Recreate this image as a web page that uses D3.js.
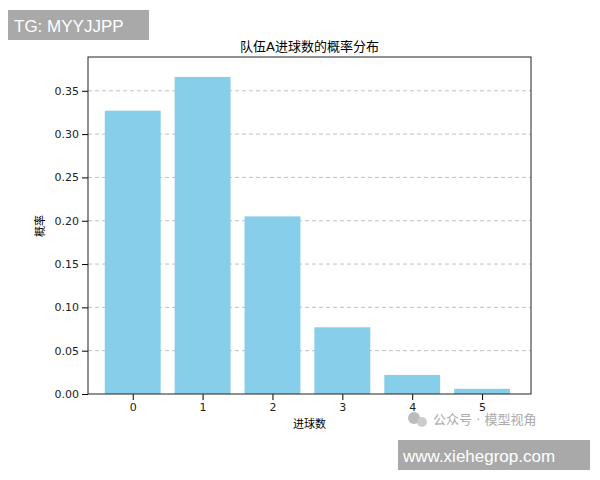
<!DOCTYPE html>
<html><head><meta charset="utf-8">
<script src="https://cdn.jsdelivr.net/npm/d3@7"></script>
<style>body{margin:0;background:#fff;font-family:"DejaVu Sans","Noto Sans CJK SC",sans-serif;}</style>
</head><body><svg id="c" width="600" height="480"></svg>
<script>
const goals = [0, 1, 2, 3, 4, 5];
const probs = [0.327, 0.366, 0.205, 0.077, 0.022, 0.006];
const yTicks = [0, 0.05, 0.10, 0.15, 0.20, 0.25, 0.30, 0.35];

const svg = d3.select('#c');
const m = {left: 88, right: 531, top: 57, bottom: 394};
const font = '"DejaVu Sans","Noto Sans CJK SC",sans-serif';

const x = d3.scaleLinear().domain([-0.64, 5.7]).range([m.left, m.right]);
const y = d3.scaleLinear().domain([0, 0.389]).range([m.bottom, m.top]);
const barW = (x(1) - x(0)) * 0.8;

// grid
svg.append('g').selectAll('line').data(yTicks.slice(1)).join('line')
  .attr('x1', m.left).attr('x2', m.right)
  .attr('y1', d => y(d)).attr('y2', d => y(d))
  .attr('stroke', '#b0b0b0').attr('stroke-dasharray', '4,3').attr('stroke-width', 0.8);

svg.append('g').selectAll('rect').data(goals).join('rect')
  .attr('x', d => x(d) - barW / 2).attr('width', barW)
  .attr('y', (d, i) => y(probs[i])).attr('height', (d, i) => m.bottom - y(probs[i]))
  .attr('fill', '#87ceeb');

svg.append('g').attr('transform', `translate(0,${m.bottom})`)
  .call(d3.axisBottom(x).tickValues(goals).tickFormat(d3.format('d')).tickSizeOuter(0))
  .call(g => g.select('.domain').remove())
  .selectAll('text').attr('font-size', 11).attr('font-family', font).attr('fill', '#222');
svg.append('g').attr('transform', `translate(${m.left},0)`)
  .call(d3.axisLeft(y).tickValues(yTicks).tickFormat(d3.format('.2f')).tickSizeOuter(0))
  .call(g => g.select('.domain').remove())
  .selectAll('text').attr('font-size', 11).attr('font-family', font).attr('fill', '#222');

svg.append('rect').attr('x', m.left).attr('y', m.top)
  .attr('width', m.right - m.left).attr('height', m.bottom - m.top)
  .attr('fill', 'none').attr('stroke', '#222').attr('stroke-width', 1);

svg.append('text').attr('x', (m.left + m.right) / 2).attr('y', 51).attr('text-anchor', 'middle')
  .attr('font-size', 13).attr('font-family', font).text('队伍A进球数的概率分布');
svg.append('text').attr('x', (m.left + m.right) / 2).attr('y', 428).attr('text-anchor', 'middle')
  .attr('font-size', 11).attr('font-family', font).text('进球数');
svg.append('text').attr('transform', 'translate(44,226) rotate(-90)').attr('text-anchor', 'middle')
  .attr('font-size', 11).attr('font-family', font).text('概率');

// watermarks
svg.append('rect').attr('x', 8).attr('y', 10).attr('width', 141).attr('height', 30).attr('fill', '#a9a9a9');
svg.append('text').attr('x', 14).attr('y', 32).attr('fill', '#fff').attr('font-size', 17)
  .attr('font-family', 'Liberation Sans,Arial,sans-serif').text('TG: MYYJJPP');
svg.append('rect').attr('x', 398).attr('y', 440).attr('width', 192).attr('height', 30).attr('fill', '#a9a9a9');
svg.append('text').attr('x', 403).attr('y', 462).attr('fill', '#fff').attr('font-size', 17)
  .attr('font-family', 'Liberation Sans,Arial,sans-serif').text('www.xiehegrop.com');
svg.append('circle').attr('cx', 414).attr('cy', 418).attr('r', 6).attr('fill', '#bbb');
svg.append('circle').attr('cx', 422).attr('cy', 422).attr('r', 5).attr('fill', '#ccc');
svg.append('text').attr('x', 433).attr('y', 424).attr('fill', '#aaa').attr('font-size', 13)
  .attr('font-family', font).text('公众号 · 模型视角');
</script></body></html>
